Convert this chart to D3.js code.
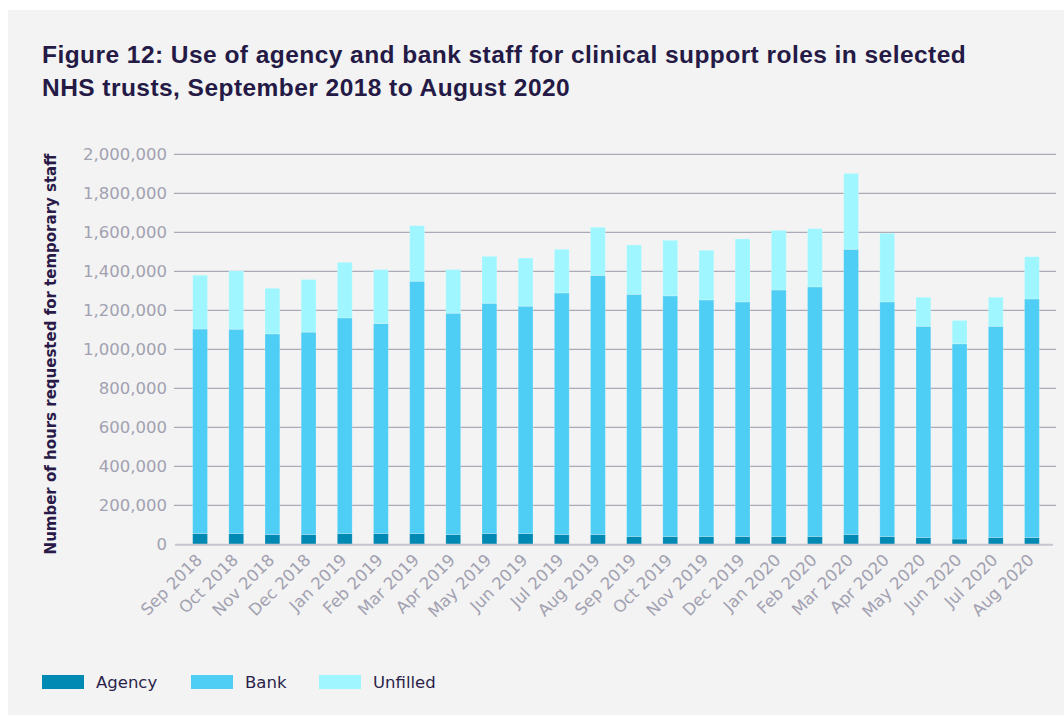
<!DOCTYPE html>
<html>
<head>
<meta charset="utf-8">
<script src="https://cdn.jsdelivr.net/npm/d3@7"></script>
<style>
  html, body { margin: 0; padding: 0; background: #ffffff; }
  svg { display: block; }
</style>
</head>
<body>
<svg id="chart" width="1064" height="715"></svg>
<script>
// Monthly hours requested for temporary clinical support staff
const months = ["Sep 2018","Oct 2018","Nov 2018","Dec 2018","Jan 2019","Feb 2019","Mar 2019","Apr 2019",
  "May 2019","Jun 2019","Jul 2019","Aug 2019","Sep 2019","Oct 2019","Nov 2019","Dec 2019",
  "Jan 2020","Feb 2020","Mar 2020","Apr 2020","May 2020","Jun 2020","Jul 2020","Aug 2020"];

const agency = [55000,55000,50000,50000,55000,55000,55000,50000,
  55000,55000,50000,50000,40000,40000,40000,40000,
  40000,40000,50000,40000,35000,27000,35000,35000];

const bank = [1049000,1048000,1029000,1038000,1106000,1077000,1294000,1135000,
  1181000,1166000,1239000,1329000,1242000,1234000,1213000,1203000,
  1264000,1280000,1463000,1203000,1083000,1001000,1083000,1223000];

const unfilled = [276000,299000,234000,270000,285000,277000,285000,224000,
  241000,247000,224000,247000,253000,285000,255000,323000,
  306000,299000,389000,352000,149000,120000,149000,217000];

const seriesNames = ["Agency","Bank","Unfilled"];
const seriesColors = ["#0089b2","#4ecef4","#a0f6fe"];
const yTicks = [0,200000,400000,600000,800000,1000000,1200000,1400000,1600000,1800000,2000000];

const titleLines = ["Figure 12: Use of agency and bank staff for clinical support roles in selected",
  "NHS trusts, September 2018 to August 2020"];
const yLabel = "Number of hours requested for temporary staff";

const svg = d3.select("#chart");

// panel background
svg.append("rect").attr("x", 8).attr("y", 10).attr("width", 1056).attr("height", 705)
  .attr("fill", "#f3f3f3");

// title
const title = svg.append("text")
  .attr("font-family", "'Liberation Sans', Arial, sans-serif")
  .attr("font-weight", "bold").attr("font-size", 24.5).attr("letter-spacing", 0.45)
  .attr("fill", "#241a45");
titleLines.forEach((t, i) => {
  title.append("tspan").attr("x", 42).attr("y", 63 + i * 33).text(t);
});

const table = months.map((m, i) => ({month: m, Agency: agency[i], Bank: bank[i], Unfilled: unfilled[i]}));
const stacked = d3.stack().keys(seriesNames)(table);

const x = d3.scaleBand().domain(months).range([182, 1050]).paddingInner(0.59).paddingOuter(0.295);
const y = d3.scaleLinear().domain([0, 2000000]).range([544.3, 154.3]);

// gridlines
svg.append("g").selectAll("line").data(yTicks.filter(d => d > 0)).join("line")
  .attr("x1", 174).attr("x2", 1056)
  .attr("y1", d => y(d)).attr("y2", d => y(d))
  .attr("stroke", "#abaab8").attr("stroke-width", 1.3);

// y axis tick labels
const yAxis = svg.append("g").attr("transform", "translate(167,0)")
  .call(d3.axisLeft(y).tickValues(yTicks).tickSize(0).tickPadding(0).tickFormat(d3.format(",")));
yAxis.select(".domain").remove();
yAxis.selectAll("text")
  .attr("font-family", "'DejaVu Sans', sans-serif").attr("font-size", 16.5)
  .attr("fill", "#a2a1b1");

// stacked bars
svg.append("g").selectAll("g").data(stacked).join("g")
  .attr("fill", (d, i) => seriesColors[i])
  .selectAll("rect").data(d => d).join("rect")
  .attr("x", d => x(d.data.month))
  .attr("width", x.bandwidth())
  .attr("y", d => y(d[1]))
  .attr("height", d => y(d[0]) - y(d[1]))
  .attr("stroke", "rgba(255,255,255,0.25)").attr("stroke-width", 0.8);

// baseline
svg.append("line").attr("x1", 175).attr("x2", 1053).attr("y1", y(0) + 0.5).attr("y2", y(0) + 0.5)
  .attr("stroke", "#c6c6ce").attr("stroke-width", 2);

// x axis labels
const xAxis = svg.append("g").attr("transform", "translate(0,561)")
  .call(d3.axisBottom(x).tickSize(0).tickPadding(0));
xAxis.select(".domain").remove();
xAxis.selectAll("text")
  .attr("font-family", "'DejaVu Sans', sans-serif").attr("font-size", 16.5)
  .attr("fill", "#a2a1b1")
  .attr("text-anchor", "end").attr("dy", 0).attr("y", 0)
  .attr("transform", "translate(3,0) rotate(-45)");

// y axis title
svg.append("text")
  .attr("transform", "translate(56,354) rotate(-90)")
  .attr("text-anchor", "middle")
  .attr("font-family", "'DejaVu Sans', sans-serif")
  .attr("font-weight", "bold").attr("font-size", 15).attr("fill", "#2a1a48")
  .text(yLabel);

// legend
const legendX = [42, 191, 319];
const legend = svg.append("g").selectAll("g").data(seriesNames).join("g")
  .attr("transform", (d, i) => `translate(${legendX[i]},675)`);
legend.append("rect").attr("width", 42).attr("height", 14).attr("fill", (d, i) => seriesColors[i]);
legend.append("text").attr("x", 54).attr("y", 13)
  .attr("font-family", "'DejaVu Sans', sans-serif").attr("font-size", 16.5)
  .attr("fill", "#2a1f4a").text(d => d);
</script>
</body>
</html>
